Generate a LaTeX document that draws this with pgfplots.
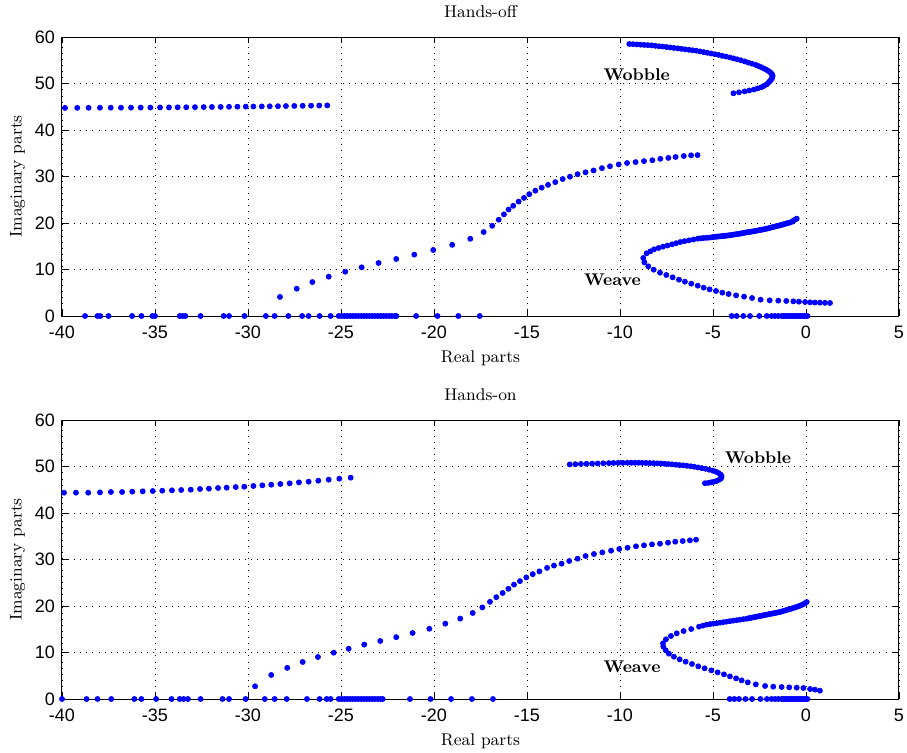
\documentclass[border=0pt]{standalone}
\usepackage{fontspec}
\usepackage{pgfplots}
\pgfplotsset{compat=1.18}
\newfontfamily\tickfont{Liberation Sans}
\definecolor{mblue}{rgb}{0,0,1}
\pgfplotsset{
 dots/.style={only marks, mark=*, mark size=1.25pt, color=mblue, mark options={draw=mblue, fill=mblue}},
 mystyle/.style={
  width=418.5pt,height=139.5pt,scale only axis,
  xmin=-40,xmax=5,ymin=0,ymax=60,
  xtick={-40,-35,...,5}, ytick={0,10,...,60},
  grid=major, grid style={black, line width=0.4pt, dash pattern=on 0.45pt off 2.6pt},
  tick align=inside, major tick length=3pt,
  tick style={black, line width=0.4pt},
  ticklabel style={font=\fontsize{9}{10}\tickfont},
  xticklabel style={yshift=-1.5pt},
  /pgf/number format/assume math mode=true,
  xlabel={Real parts}, ylabel={Imaginary parts},
  label style={font=\fontsize{8.5}{10}\selectfont},
  xlabel style={yshift=1pt},
  title style={font=\fontsize{8.5}{10}\selectfont},
  ylabel style={at={(axis description cs:-0.053,0.5)},anchor=center},
  axis line style={line width=0.5pt},
 }
}
\newcommand{\lbl}{\bfseries\fontsize{8.5}{10}\selectfont}
\begin{document}
\begin{tikzpicture}
% ---------------- Top: Hands-off ----------------
\begin{axis}[mystyle, at={(0,191.5pt)}, anchor=south west, title={Hands-off}]
\addplot[dots] coordinates {
(-39.84,44.76) (-39.18,44.77) (-38.57,44.78) (-37.96,44.79) (-37.38,44.80) (-36.83,44.80)
(-36.29,44.81) (-35.77,44.82) (-35.25,44.83) (-34.73,44.85) (-34.25,44.86) (-33.78,44.88)
(-33.32,44.89) (-32.85,44.91) (-32.38,44.93) (-31.94,44.95) (-31.47,44.97) (-31.02,44.99)
(-30.57,45.01) (-30.12,45.03) (-29.71,45.05) (-29.26,45.07) (-28.83,45.10) (-28.39,45.12)
(-27.96,45.15) (-27.51,45.17) (-27.06,45.20) (-26.61,45.23) (-26.17,45.26) (-25.74,45.29)
};
\addplot[dots] coordinates {
(-28.28,4.1) (-27.38,5.87) (-26.54,7.3) (-25.66,8.46) (-24.77,9.53) (-23.89,10.47)
(-22.98,11.4) (-22.03,12.26) (-21.06,13.2) (-20.04,14.2) (-19.02,15.3) (-18.05,16.6)
(-17.33,18.06) (-16.87,19.4) (-16.52,20.7) (-16.24,21.86) (-15.99,22.9) (-15.74,23.7)
(-15.45,24.6) (-15.16,25.4) (-14.88,26.2) (-14.55,26.95) (-14.21,27.6) (-13.87,28.2)
(-13.48,28.8) (-13.08,29.46) (-12.69,29.96) (-12.28,30.5) (-11.85,30.9) (-11.42,31.3)
(-10.97,31.8) (-10.54,32.2) (-10.07,32.6) (-9.62,32.9) (-9.16,33.1) (-8.71,33.3)
(-8.26,33.5) (-7.83,33.8) (-7.40,34.0) (-7.01,34.2) (-6.57,34.4) (-6.18,34.55) (-5.83,34.6)
};
% weave
\addplot[dots] coordinates {
(-0.50,20.93) (-0.59,20.7) (-0.68,20.5) (-0.77,20.25) (-0.86,20.1) (-0.95,20.0)
(-1.04,19.93) (-1.13,19.8) (-1.22,19.7) (-1.31,19.6) (-1.40,19.5) (-1.49,19.42)
(-1.58,19.33) (-1.67,19.24) (-1.76,19.14) (-1.85,19.05) (-1.94,18.96) (-2.02,18.87)
(-2.11,18.78) (-2.20,18.7) (-2.29,18.63) (-2.38,18.56) (-2.47,18.49) (-2.56,18.42)
(-2.65,18.35) (-2.74,18.28) (-2.83,18.21) (-2.92,18.15) (-3.01,18.1) (-3.10,18.05)
(-3.19,17.99) (-3.28,17.92) (-3.37,17.85) (-3.46,17.78) (-3.55,17.71) (-3.64,17.65)
(-3.73,17.6) (-3.82,17.55) (-3.91,17.49) (-4.0,17.44) (-4.09,17.38) (-4.18,17.33)
(-4.27,17.28) (-4.36,17.24) (-4.45,17.2) (-4.53,17.17) (-4.62,17.13) (-4.71,17.1)
(-4.80,17.06) (-4.89,17.03) (-4.98,16.99) (-5.10,16.92) (-5.23,16.85) (-5.37,16.81)
(-5.52,16.77) (-5.67,16.7) (-5.82,16.63) (-6.05,16.45) (-6.29,16.27) (-6.53,16.1)
(-6.76,15.91) (-6.98,15.66) (-7.20,15.41) (-7.45,15.16) (-7.69,14.91) (-7.93,14.62)
(-8.17,14.34) (-8.37,13.9) (-8.57,13.48) (-8.75,12.47) (-8.69,11.54) (-8.48,10.68)
(-8.19,9.96) (-7.85,9.32) (-7.51,8.82) (-7.17,8.32) (-6.83,7.81) (-6.51,7.38)
(-6.17,6.95) (-5.82,6.52) (-5.50,6.09) (-5.18,5.73) (-4.84,5.38) (-4.50,5.02)
(-4.16,4.73) (-3.76,4.44) (-3.33,4.16) (-2.90,3.87) (-2.44,3.51) (-1.95,3.37)
(-1.49,3.30) (-1.06,3.23) (-0.68,3.15) (-0.38,3.08) (-0.05,3.01) (0.22,2.94)
(0.48,2.90) (0.75,2.87) (1.02,2.83) (1.29,2.80)
};
% wobble
\addplot[dots] coordinates {
(-9.5,58.5) (-9.3,58.45) (-9.1,58.4) (-8.9,58.35) (-8.7,58.3) (-8.5,58.25) (-8.3,58.2)
(-8.1,58.1) (-7.9,58.0) (-7.7,57.95) (-7.5,57.85) (-7.3,57.75) (-7.1,57.65) (-6.9,57.55)
(-6.7,57.45) (-6.5,57.35) (-6.3,57.25) (-6.1,57.15) (-5.9,57.05) (-5.7,56.9) (-5.5,56.75)
(-5.3,56.6) (-5.1,56.45) (-4.9,56.3) (-4.7,56.15) (-4.5,55.95) (-4.3,55.8) (-4.1,55.6)
(-3.9,55.4) (-3.7,55.2) (-3.5,55.0) (-3.3,54.75) (-3.1,54.5) (-2.9,54.25) (-2.7,54.0)
(-2.55,53.75) (-2.4,53.5) (-2.27,53.25) (-2.15,53.0) (-2.05,52.75) (-1.95,52.5)
(-1.88,52.25) (-1.83,52.0) (-1.8,51.75) (-1.8,51.5) (-1.82,51.25) (-1.85,51.0)
(-1.9,50.7) (-1.97,50.4) (-2.04,50.1) (-2.12,49.8) (-2.25,49.5) (-2.4,49.2)
(-2.6,48.95) (-2.8,48.7) (-3.05,48.5) (-3.3,48.3) (-3.6,48.1) (-3.9,47.9)
};
% real axis
\addplot[dots] coordinates {
(-38.76,0) (-38.09,0) (-37.94,0) (-37.5,0) (-36.23,0) (-35.73,0) (-35.14,0) (-35.0,0)
(-33.67,0) (-33.52,0) (-33.37,0) (-32.55,0) (-31.31,0) (-31.02,0) (-30.19,0) (-29.04,0)
(-28.57,0) (-27.83,0) (-27.09,0) (-26.74,0) (-26.15,0) (-25.56,0)
(-25.12,0) (-24.97,0) (-24.82,0) (-24.67,0) (-24.52,0) (-24.37,0) (-24.22,0) (-24.07,0)
(-23.92,0) (-23.77,0) (-23.62,0) (-23.47,0) (-23.32,0) (-23.17,0) (-23.02,0) (-22.87,0)
(-22.72,0) (-22.57,0) (-22.42,0) (-22.27,0) (-22.12,0) (-22.02,0)
(-20.96,0) (-19.81,0) (-18.69,0) (-17.54,0)
(-4.0,0) (-3.73,0) (-3.37,0) (-3.01,0) (-2.51,0) (-2.11,0) (-1.85,0) (-1.67,0) (-1.49,0)
(-1.31,0) (-1.2,0) (-1.1,0) (-1.0,0) (-0.9,0) (-0.8,0) (-0.7,0) (-0.6,0) (-0.5,0)
(-0.4,0) (-0.3,0) (-0.2,0) (-0.1,0) (0.0,0) (0.08,0)
};
\node[font=\lbl] at (axis cs:-9.1,51.8) {Wobble};
\node[font=\lbl] at (axis cs:-10.4,7.7) {Weave};
\end{axis}
% ---------------- Bottom: Hands-on ----------------
\begin{axis}[mystyle, at={(0,0)}, anchor=south west, title={Hands-on}]
\addplot[dots] coordinates {
(-39.89,44.37) (-39.25,44.37) (-38.59,44.37) (-37.96,44.44) (-37.37,44.52) (-36.77,44.52)
(-36.22,44.59) (-35.66,44.66) (-35.12,44.73) (-34.61,44.80) (-34.09,44.87) (-33.59,44.95)
(-33.08,45.02) (-32.58,45.16) (-32.10,45.23) (-31.61,45.38) (-31.15,45.45) (-30.66,45.59)
(-30.20,45.66) (-29.71,45.81) (-29.23,45.95) (-28.75,46.09) (-28.26,46.24) (-27.76,46.38)
(-27.26,46.59) (-26.74,46.74) (-26.22,46.95) (-25.66,47.17) (-25.09,47.38) (-24.48,47.60)
};
\addplot[dots] coordinates {
(-29.62,2.73) (-28.75,5.16) (-27.89,6.7) (-27.06,7.96) (-26.24,9.03) (-25.39,9.96)
(-24.59,10.8) (-23.75,11.7) (-22.89,12.47) (-22.03,13.3) (-21.15,14.2) (-20.25,15.1)
(-19.39,16.2) (-18.59,17.3) (-17.92,18.5) (-17.40,19.7) (-16.99,20.9) (-16.65,21.9)
(-16.31,22.8) (-16.00,23.7) (-15.70,24.6) (-15.38,25.35) (-15.04,26.15) (-14.69,26.85)
(-14.33,27.45) (-13.92,28.2) (-13.55,28.7) (-13.14,29.1) (-12.73,29.68) (-12.28,30.18)
(-11.85,30.75) (-11.40,31.18) (-10.95,31.54) (-10.48,31.9) (-10.04,32.26) (-9.59,32.54)
(-9.14,32.83) (-8.71,33.05) (-8.28,33.26) (-7.85,33.4) (-7.42,33.62) (-7.03,33.83)
(-6.63,33.98) (-6.24,34.12) (-5.91,34.26)
};
% weave
\addplot[dots] coordinates {
(0.04,20.86) (-0.05,20.6) (-0.14,20.4) (-0.23,20.22) (-0.32,20.07) (-0.41,19.94)
(-0.50,19.8) (-0.59,19.68) (-0.68,19.57) (-0.77,19.46) (-0.86,19.35) (-0.95,19.25)
(-1.04,19.14) (-1.13,19.03) (-1.22,18.92) (-1.31,18.82) (-1.40,18.71) (-1.49,18.64)
(-1.58,18.56) (-1.67,18.49) (-1.76,18.42) (-1.85,18.35) (-1.94,18.28) (-2.02,18.21)
(-2.11,18.14) (-2.20,18.07) (-2.29,18.0) (-2.38,17.92) (-2.47,17.85) (-2.56,17.78)
(-2.65,17.71) (-2.74,17.64) (-2.83,17.56) (-2.92,17.49) (-3.01,17.42) (-3.10,17.35)
(-3.19,17.28) (-3.37,17.17) (-3.55,17.06) (-3.73,16.95) (-3.91,16.85) (-4.09,16.74)
(-4.27,16.63) (-4.45,16.52) (-4.62,16.42) (-4.80,16.31) (-4.98,16.2) (-5.16,16.1)
(-5.34,15.99) (-5.54,15.78) (-5.75,15.56) (-6.17,15.05) (-6.58,14.62) (-6.95,14.12)
(-7.26,13.55) (-7.53,12.83) (-7.69,11.97) (-7.67,11.25) (-7.54,10.47) (-7.37,9.75)
(-7.10,9.10) (-6.79,8.53) (-6.47,8.03) (-6.13,7.53) (-5.79,7.03) (-5.45,6.60)
(-5.09,6.16) (-4.75,5.73) (-4.41,5.30) (-4.09,4.87) (-3.76,4.44) (-3.46,4.01)
(-3.13,3.58) (-2.70,3.15) (-2.20,2.80) (-1.76,2.65) (-1.31,2.58) (-0.90,2.51)
(-0.50,2.44) (-0.14,2.37) (0.22,2.15) (0.48,2.01) (0.75,1.79)
};
% wobble
\addplot[dots] coordinates {
(-12.7,50.45) (-12.4,50.5) (-12.1,50.55) (-11.8,50.58) (-11.5,50.62) (-11.2,50.66)
(-10.9,50.7) (-10.6,50.73) (-10.35,50.76) (-10.1,50.78) (-9.85,50.79) (-9.6,50.8)
(-9.4,50.8) (-9.2,50.8) (-9.0,50.8) (-8.8,50.78) (-8.6,50.76) (-8.4,50.74) (-8.2,50.72)
(-8.0,50.68) (-7.8,50.64) (-7.6,50.58) (-7.4,50.53) (-7.2,50.46) (-7.0,50.38)
(-6.8,50.3) (-6.6,50.25) (-6.4,50.15) (-6.2,50.05) (-6.0,49.93) (-5.8,49.8)
(-5.6,49.65) (-5.4,49.5) (-5.2,49.3) (-5.0,49.1) (-4.85,48.9) (-4.7,48.6)
(-4.6,48.3) (-4.55,48.0) (-4.54,47.7) (-4.58,47.4) (-4.67,47.15) (-4.8,46.9)
(-4.95,46.72) (-5.1,46.6) (-5.25,46.48) (-5.43,46.4)
};
% real axis
\addplot[dots] coordinates {
(-40.0,0) (-38.68,0) (-38.09,0) (-37.35,0) (-36.11,0) (-35.73,0) (-34.94,0) (-34.11,0)
(-33.67,0) (-33.46,0) (-33.23,0) (-32.55,0) (-31.37,0) (-31.02,0) (-30.13,0) (-29.10,0)
(-28.57,0) (-27.92,0) (-26.83,0) (-26.15,0) (-25.77,0) (-25.56,0)
(-25.12,0) (-24.97,0) (-24.82,0) (-24.67,0) (-24.52,0) (-24.37,0) (-24.22,0) (-24.07,0)
(-23.92,0) (-23.77,0) (-23.62,0) (-23.47,0) (-23.32,0) (-23.17,0) (-23.02,0) (-22.87,0)
(-22.76,0)
(-21.29,0) (-20.19,0) (-19.08,0) (-17.96,0) (-16.83,0)
(-4.1,0) (-3.85,0) (-3.6,0) (-3.25,0) (-2.9,0) (-2.45,0) (-2.1,0) (-1.85,0) (-1.67,0)
(-1.49,0) (-1.31,0) (-1.2,0) (-1.1,0) (-1.0,0) (-0.9,0) (-0.8,0) (-0.7,0) (-0.6,0)
(-0.5,0) (-0.4,0) (-0.3,0) (-0.2,0) (-0.1,0) (0.0,0) (0.08,0)
};
\node[font=\lbl] at (axis cs:-2.58,51.8) {Wobble};
\node[font=\lbl] at (axis cs:-9.35,6.9) {Weave};
\end{axis}
\pgfresetboundingbox
\path (-31pt,-26.5pt) rectangle (422.5pt,349.5pt);
\end{tikzpicture}
\end{document}
